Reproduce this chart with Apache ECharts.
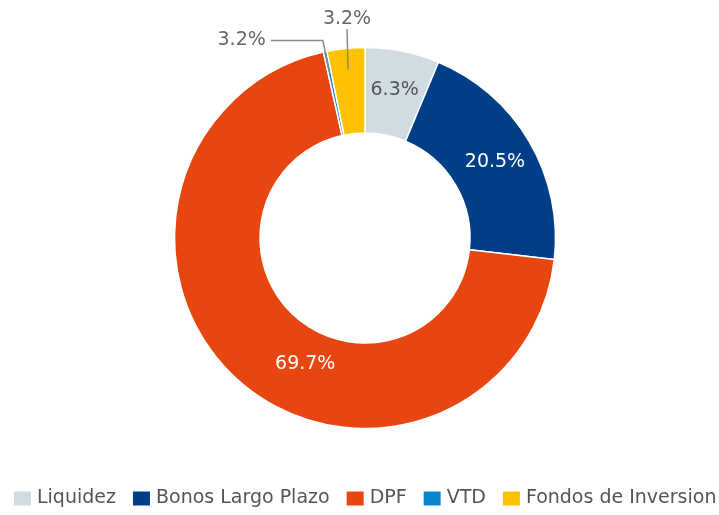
<!DOCTYPE html>
<html>
<head>
<meta charset="utf-8">
<script src="https://cdn.jsdelivr.net/npm/echarts@6/dist/echarts.min.js"></script>
<style>
  html, body { margin: 0; padding: 0; background: #fff; }
  #chart { width: 719px; height: 515px; }
</style>
</head>
<body>
<div id="chart"></div>
<script>
// categorias y valores (%)
var categories = ['Liquidez', 'Bonos Largo Plazo', 'DPF', 'VTD', 'Fondos de Inversion'];
var values = [6.3, 20.5, 69.7, 0.3, 3.2];
// textos de las etiquetas tal como aparecen en la imagen
var labelTexts = ['6.3%', '20.5%', '69.7%', '3.2%', '3.2%'];
var colors = ['#d0dce2', '#003f87', '#e84610', '#0a86cf', '#ffc200'];

var font = 'DejaVu Sans';
var cx = 365, cy = 238;
var chart = echarts.init(document.getElementById('chart'));

// serie visible: etiquetas dentro del anillo
var mainData = categories.map(function (name, i) {
  var item = { name: name, value: values[i] };
  if (i == 0) item.label = { color: '#555' };
  if (i >= 3) item.label = { show: false };
  return item;
});

// serie auxiliar transparente, solo para las etiquetas de fuera
// (asi la linea guia arranca dentro del anillo)
var outerData = categories.map(function (name, i) {
  var item = { name: name, value: values[i] };
  if (i >= 3) {
    item.label = { show: true };
    item.labelLine = { show: true, length: i == 3 ? 33 : 40, length2: i == 3 ? 52 : 0 };
  }
  return item;
});

chart.setOption({
  animation: false,
  color: colors,
  legend: {
    bottom: 2,
    left: 7,
    width: 712,
    padding: [5, 0, 5, 5],
    itemWidth: 19,
    itemHeight: 16,
    itemGap: 15,
    icon: 'rect',
    textStyle: { fontFamily: font, fontSize: 19, color: '#555' },
    data: categories
  },
  series: [{
    type: 'pie',
    z: 2,
    center: [cx, cy],
    radius: [105, 190.5],
    startAngle: 90,
    clockwise: true,
    avoidLabelOverlap: false,
    itemStyle: { borderColor: '#fff', borderWidth: 1.5 },
    label: {
      position: 'inside',
      fontFamily: font,
      fontSize: 19,
      color: '#fff',
      formatter: function (p) { return labelTexts[p.dataIndex]; }
    },
    labelLayout: function (p) {
      if (p.dataIndex == 2) return { dx: 41, dy: 14 };
      return {};
    },
    data: mainData
  }, {
    type: 'pie',
    z: 5,
    silent: true,
    center: [cx, cy],
    radius: [105, 169],
    startAngle: 90,
    clockwise: true,
    avoidLabelOverlap: false,
    itemStyle: { color: 'rgba(0,0,0,0)', borderWidth: 0 },
    label: {
      show: false,
      position: 'outside',
      fontFamily: font,
      fontSize: 19,
      color: '#666',
      formatter: function (p) { return labelTexts[p.dataIndex]; }
    },
    labelLine: { show: false, lineStyle: { color: '#888', width: 1.5 } },
    labelLayout: function (p) {
      var pts = p.labelLinePoints;
      if (p.dataIndex == 4 && pts) {
        return { x: pts[1][0] + 3, y: pts[1][1] - 1, align: 'center', verticalAlign: 'bottom' };
      }
      return {};
    },
    data: outerData
  }]
});
</script>
</body>
</html>
